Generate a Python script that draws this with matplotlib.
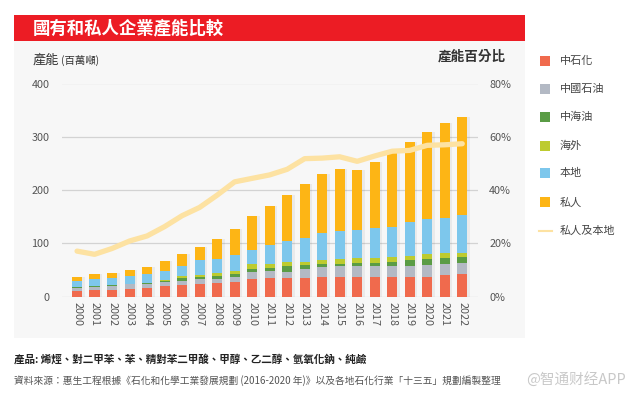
import matplotlib
matplotlib.use("Agg")
import matplotlib.pyplot as plt
from matplotlib.patches import Rectangle
from matplotlib.lines import Line2D
import numpy as np

plt.rcParams['font.family'] = ['Noto Sans CJK TC', 'DejaVu Sans']

# 數據 (百萬噸)
years = [str(y) for y in range(2000, 2023)]
sinopec = [11, 13, 13.5, 15, 17, 20.5, 22.5, 24, 26, 28, 34, 35, 35, 35, 37.5, 37.5, 37.5, 37.5, 37.5, 37.5, 37.5, 41, 43]
petrochina = [5.5, 6, 7.5, 8, 7, 7.5, 7, 9, 7, 9, 12, 14, 12, 17, 19, 20.5, 20.5, 20.5, 20.5, 21, 22.5, 20, 20]
cnooc = [1, 0.5, 1, 1, 2, 2, 5, 4.5, 6, 5.5, 6.5, 5.5, 11, 8, 5, 4, 4.5, 6, 7, 10.5, 10.5, 11.5, 11.5]
overseas = [0.5, 0.5, 0.5, 0.5, 0.5, 1.5, 4, 4, 5.5, 6, 8, 7.5, 6.5, 5, 7, 9, 10.5, 9, 10, 8, 9, 10, 8]
local = [11, 14, 13, 14, 16.5, 17, 19.5, 27, 26, 29, 27.5, 35.5, 40, 45.5, 51, 52, 52.5, 56.5, 56.5, 63.5, 67, 65.5, 71]
private = [8, 8, 9.5, 12, 13, 18.5, 22, 25, 37.5, 49.5, 63.5, 72.5, 86.5, 101, 110.5, 116.5, 112, 124, 137.5, 149.5, 162.5, 178, 183.5]
# 私人及本地 (%)
share = [17.1, 15.9, 18.1, 20.9, 22.8, 26.3, 30.4, 33.5, 38.1, 43.1, 44.4, 45.7, 47.8, 51.8, 52.0, 52.5, 50.8, 52.8, 54.6, 54.9, 56.8, 57.0, 57.4]

series = [
    ("中石化", sinopec, "#F06A4D"),
    ("中國石油", petrochina, "#B3B9C4"),
    ("中海油", cnooc, "#5A9C45"),
    ("海外", overseas, "#BDCB2F"),
    ("本地", local, "#7DC7EC"),
    ("私人", private, "#FDB515"),
]
line_color = "#FDE2A2"

W, H = 632, 399
fig = plt.figure(figsize=(W / 100, H / 100), dpi=100)
fig.patch.set_facecolor("white")

def fx(px):
    return px / W

def fy(py):
    return 1 - py / H

# 灰色背景與紅色標題
fig.patches.append(Rectangle((fx(14), fy(338)), fx(511), 297 / H, transform=fig.transFigure,
                             facecolor="#F7F7F7", edgecolor="none", zorder=-10))
fig.patches.append(Rectangle((fx(14), fy(41)), fx(511), 26 / H, transform=fig.transFigure,
                             facecolor="#EC1C24", edgecolor="none", zorder=-10))
fig.text(fx(33), fy(28), "國有和私人企業產能比較", color="white", fontsize=12.5,
         fontweight="bold", va="center", ha="left")

ax = fig.add_axes([fx(62), fy(296.7), fx(478 - 62), 213.2 / H])
ax.set_facecolor("none")
x = np.arange(len(years))
totals = np.sum([s[1] for s in series], axis=0)
# 陰影
ax.bar(x + 0.12, totals, width=0.62, color="black", alpha=0.05, zorder=2, linewidth=0)
bottom = np.zeros(len(years))
for name, vals, col in series:
    ax.bar(x, vals, width=0.58, bottom=bottom, color=col, zorder=3, linewidth=0)
    bottom += np.array(vals)

ax.set_ylim(0, 400)
ax.set_xlim(-0.86, 22.9)
ax.set_yticks([0, 100, 200, 300, 400])
ax.grid(axis="y", color="#D3D3D3", linewidth=0.9, zorder=0)
ax.set_xticks(x)
ax.set_xticklabels(years, rotation=270, fontsize=7.8, color="#555555")
ax.tick_params(axis="both", length=0, labelsize=7.8, labelcolor="#555555")
ax.tick_params(axis="x", pad=4)
ax.tick_params(axis="y", pad=9)
for s in ax.spines.values():
    s.set_visible(False)

ax2 = ax.twinx()
ax2.plot(x, share, color=line_color, linewidth=3.8, solid_capstyle="round", zorder=5)
ax2.set_ylim(0, 80)
ax2.set_yticks([0, 20, 40, 60, 80])
ax2.set_yticklabels([f"{v}%" for v in [0, 20, 40, 60, 80]])
ax2.tick_params(axis="y", length=0, labelsize=7.8, labelcolor="#555555", pad=8)
for s in ax2.spines.values():
    s.set_visible(False)

# 軸標題
fig.text(fx(33), fy(60), "產能", fontsize=9.5, color="#333333", va="center", ha="left")
fig.text(fx(61), fy(60), "(百萬噸)", fontsize=7.5, color="#333333", va="center", ha="left")
fig.text(fx(506), fy(57), "產能百分比", fontsize=9.8, color="#333333", va="center", ha="right",
         fontweight="bold")

# 圖例
leg_y = [60.7, 89, 116.7, 146, 173.3, 202.3]
for (name, vals, col), yy in zip(series, leg_y):
    fig.patches.append(Rectangle((fx(540), fy(yy + 5)), fx(10), 10 / H, transform=fig.transFigure,
                                 facecolor=col, edgecolor="none"))
    fig.text(fx(560), fy(yy), name, fontsize=8, color="#444444", va="center", ha="left")
fig.add_artist(Line2D([fx(539), fx(552)], [fy(230.7), fy(230.7)], transform=fig.transFigure,
                      color=line_color, linewidth=1.5))
fig.text(fx(560), fy(230.7), "私人及本地", fontsize=8, color="#444444", va="center", ha="left")

# 註釋
fig.text(fx(14), fy(359), "產品: 烯烴、對二甲苯、苯、精對苯二甲酸、甲醇、乙二醇、氫氧化鈉、純鹼",
         fontsize=7.6, color="#222222", fontweight="bold", va="center", ha="left")
fig.text(fx(14), fy(381),
         "資料來源：惠生工程根據《石化和化學工業發展規劃 (2016-2020 年)》以及各地石化行業「十三五」規劃編製整理",
         fontsize=7, color="#555555", va="center", ha="left")
fig.text(fx(626), fy(379), "@智通财经APP", fontsize=10.5, color="#BBBBBB", alpha=0.8,
         va="center", ha="right", family=["Noto Sans CJK SC", "DejaVu Sans"])

fig.savefig("out.png", dpi=100)
